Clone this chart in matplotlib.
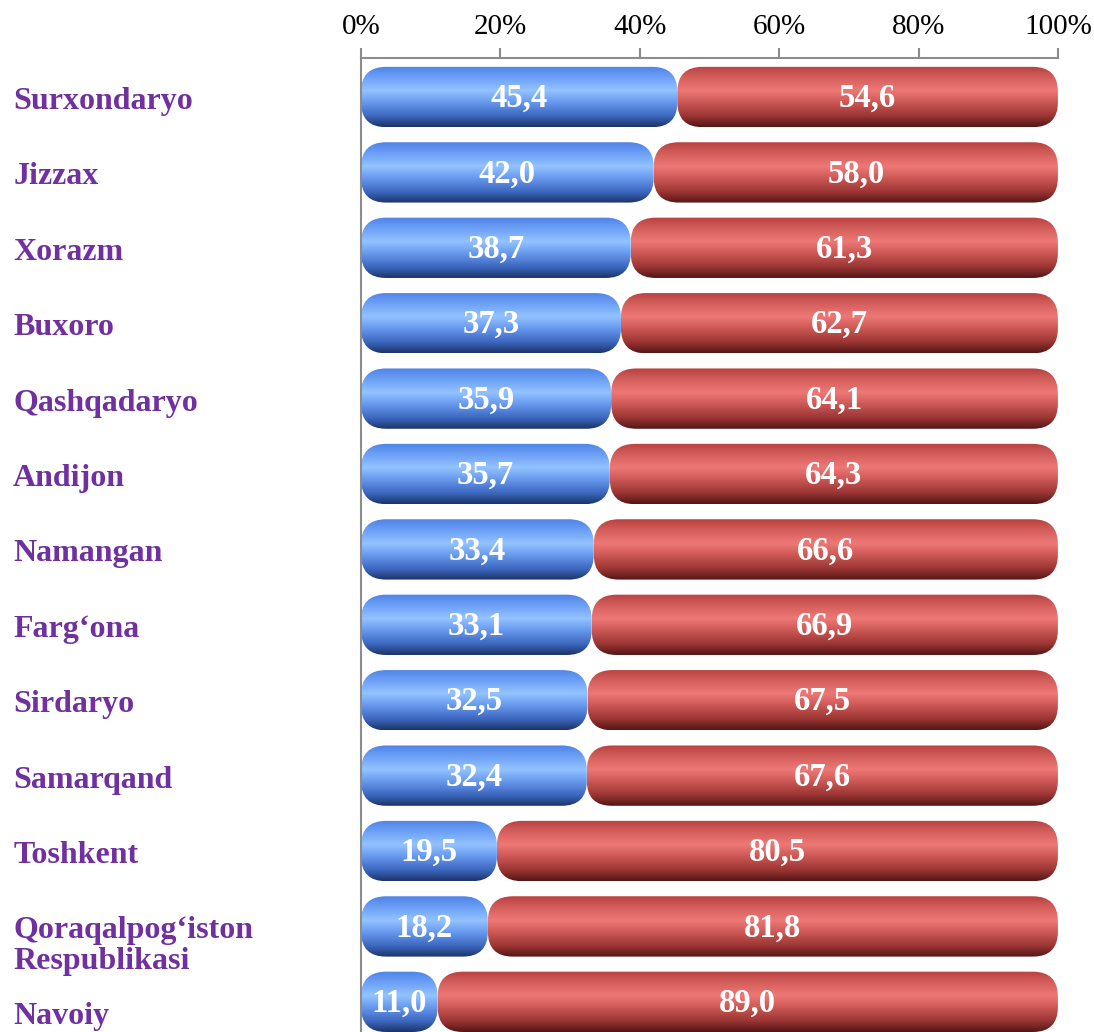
import matplotlib
matplotlib.use("Agg")
import matplotlib.pyplot as plt
import numpy as np
from matplotlib.colors import LinearSegmentedColormap
from matplotlib.patches import FancyBboxPatch
from matplotlib.transforms import blended_transform_factory

regions = ["Surxondaryo", "Jizzax", "Xorazm", "Buxoro", "Qashqadaryo", "Andijon",
           "Namangan", "Farg\u2018ona", "Sirdaryo", "Samarqand", "Toshkent",
           "Qoraqalpog\u2018iston\nRespublikasi", "Navoiy"]
share_a = [45.4, 42.0, 38.7, 37.3, 35.9, 35.7, 33.4, 33.1, 32.5, 32.4, 19.5, 18.2, 11.0]
share_b = [54.6, 58.0, 61.3, 62.7, 64.1, 64.3, 66.6, 66.9, 67.5, 67.6, 80.5, 81.8, 89.0]
ticks = [0, 20, 40, 60, 80, 100]

# vertical shading, top -> bottom, for the "cylinder" look
BLUE = LinearSegmentedColormap.from_list("b", [
    (0.0, "#4f83e6"), (0.18, "#6b9ff6"), (0.40, "#93c3ff"), (0.58, "#6a9cf0"),
    (0.82, "#3c67bf"), (1.0, "#1b3467")])
RED = LinearSegmentedColormap.from_list("r", [
    (0.0, "#b9413f"), (0.18, "#d25e5b"), (0.40, "#ee7875"), (0.58, "#cf5a57"),
    (0.82, "#9a3533"), (1.0, "#531616")])

fig = plt.figure(figsize=(10.94, 10.32), dpi=100)
ax = fig.add_axes([0.33, 0.0, 0.637, 0.944])
ax.set_xlim(0, 100)
ax.set_ylim(len(regions) - 0.6, -0.52)

bar_h = 0.8
# px per unit, to keep the rounded ends circular
px_x = 0.637 * 1094 / 100
px_y = 0.944 * 1032 / (len(regions) - 0.6 + 0.52)
aspect = px_x / px_y
grad = np.linspace(0, 1, 256).reshape(-1, 1)


def rounded_bar(x0, w, y, cmap):
    r = 25 / px_x
    patch = FancyBboxPatch((x0, y - bar_h / 2), w, bar_h,
                           boxstyle=f"round,pad=0,rounding_size={r}",
                           mutation_aspect=aspect, facecolor="none",
                           edgecolor="none", transform=ax.transData)
    ax.add_patch(patch)
    im = ax.imshow(grad, cmap=cmap, aspect="auto", interpolation="bicubic",
                   extent=(x0, x0 + w, y + bar_h / 2, y - bar_h / 2),
                   origin="upper", zorder=2)
    im.set_clip_path(patch)


for i, (a, b) in enumerate(zip(share_a, share_b)):
    rounded_bar(0, a, i, BLUE)
    rounded_bar(a, b, i, RED)
    for x0, v in ((0, a), (a, b)):
        ax.text(x0 + v / 2, i + 0.02, f"{v:.1f}".replace(".", ","), ha="center",
                va="center", color="white", fontsize=23.5, fontweight="bold",
                family="Liberation Serif", zorder=3)

ax.set_xlim(0, 100)
ax.set_ylim(len(regions) - 0.6, -0.52)

# category labels at the far left
trans = blended_transform_factory(fig.transFigure, ax.transData)
for i, name in enumerate(regions):
    dy = 0.06
    if "\n" in name:
        dy = 0.26
    elif i == len(regions) - 1:
        dy = 0.19
    ax.text(0.012, i + dy, name, transform=trans, ha="left", va="center",
            color="#7030a0", fontsize=23, fontweight="bold",
            family="Liberation Serif", linespacing=1.1, clip_on=False)

ax.xaxis.tick_top()
ax.set_xticks(ticks)
ax.set_xticklabels([f"{t}%" for t in ticks], family="Liberation Serif", fontsize=21)
ax.set_yticks([])
ax.tick_params(axis="x", direction="out", length=7, width=1.5, color="#8c8c8c", pad=6)
for s in ("bottom", "right"):
    ax.spines[s].set_visible(False)
for s in ("top", "left"):
    ax.spines[s].set_color("#8c8c8c")
    ax.spines[s].set_linewidth(1.5)

fig.savefig("out.png", dpi=100)
